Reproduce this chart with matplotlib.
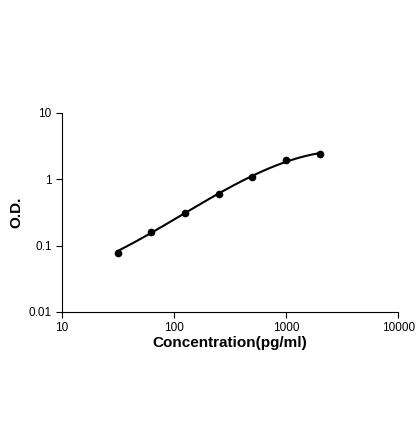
import numpy as np
import matplotlib
matplotlib.use("Agg")
import matplotlib.pyplot as plt

conc = [31.25, 62.5, 125, 250, 500, 1000, 2000]
od = [0.076, 0.160, 0.31, 0.60, 1.08, 1.95, 2.42]
xticks = [10, 100, 1000, 10000]
xlabels = ["10", "100", "1000", "10000"]
yticks = [0.01, 0.1, 1, 10]
ylabels = ["0.01", "0.1", "1", "10"]

plt.rcParams['font.family'] = ['Liberation Sans', 'DejaVu Sans']
fig = plt.figure(figsize=(4.2, 4.21), dpi=100)
ax = fig.add_axes([0.148, 0.259, 0.8, 0.473])

lx = np.log10(conc); ly = np.log10(od)
c = np.polyfit(lx, ly, 3, w=[0.4, 1, 1, 1, 1, 1, 1])
xs = np.linspace(lx[0], lx[-1], 200)
ax.plot(10**xs, 10**np.polyval(c, xs), color='black', lw=1.5)
ax.plot(conc, od, 'o', color='black', ms=4.5)

ax.set_xscale('log'); ax.set_yscale('log')
ax.set_xlim(10, 10000); ax.set_ylim(0.01, 10)
ax.set_xticks(xticks); ax.set_xticklabels(xlabels)
ax.set_yticks(yticks); ax.set_yticklabels(ylabels)
ax.minorticks_off()
ax.tick_params(labelsize=8.5, length=4, direction='out')
for s in ['top', 'right']:
    ax.spines[s].set_visible(False)
ax.set_xlabel('Concentration(pg/ml)', fontsize=11, fontweight='bold', labelpad=1)
ax.set_ylabel('O.D.', fontsize=11, fontweight='bold')
fig.savefig('out.png', dpi=100)
